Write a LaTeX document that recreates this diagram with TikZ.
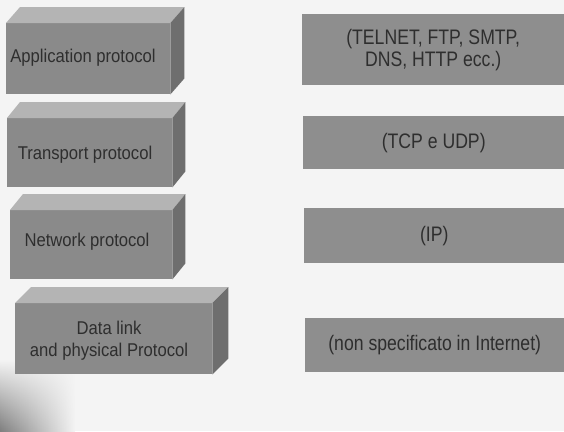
\documentclass[tikz,border=0pt]{standalone}
\usepackage{fontspec}
\setmainfont{Liberation Sans}
\newfontfamily\leftfont[FakeStretch=0.9]{Liberation Sans}
\newfontfamily\rightfont[FakeStretch=0.84]{Liberation Sans}
\usetikzlibrary{fadings}
\definecolor{bgc}{HTML}{F4F4F4}
\definecolor{frontc}{HTML}{8A8A8A}
\definecolor{topc}{HTML}{B4B4B4}
\definecolor{sidec}{HTML}{6E6E6E}
\definecolor{rboxc}{HTML}{8E8E8E}
\definecolor{txtc}{HTML}{2E2E2E}
\begin{document}
\begin{tikzpicture}[x=1pt,y=-1pt,
  front/.style={fill=frontc, inner sep=0pt, anchor=north west},
  lbl/.style={text=txtc, align=center, font=\leftfont\fontsize{18.5}{22}\selectfont},
  rbox/.style={fill=rboxc, inner sep=0pt, anchor=north west, text=txtc, align=center, font=\rightfont\fontsize{21}{22}\selectfont},
  topface/.style={fill=topc},
  sideface/.style={fill=sidec}]
\useasboundingbox (0,0) rectangle (564,431);
\fill[bgc] (0,0) rectangle (564,431);
\shade[left color=black!50, right color=bgc, path fading=north] (0,360) rectangle (75,431);
% left 3D boxes
\newcommand{\boxthreed}[7]{%
  \node[front, minimum width=#3pt, minimum height=#4pt] (#7) at (#1,#2) {};
  \fill[topface] (#7.north west) -- ++(#5,-#6) -- ([shift={(#5,-#6)}]#7.north east) -- (#7.north east) -- cycle;
  \fill[sideface] (#7.north east) -- ++(#5,-#6) -- ([shift={(#5,-#6)}]#7.south east) -- (#7.south east) -- cycle;
}
\boxthreed{6}{23}{164}{71}{14}{16}{a1}
\boxthreed{7}{118}{165}{69}{13}{16}{a2}
\boxthreed{10}{210}{162}{69}{13}{16}{a3}
\boxthreed{15}{303}{197}{71}{16}{16}{a4}
\node[lbl] (t1) at (83,58) {Application protocol};
\node[lbl] (t2) at (85,155) {Transport protocol};
\node[lbl] (t3) at (87,242) {Network protocol};
\node[lbl] (t4) at (109,341) {Data link\\and physical Protocol};
% right boxes
\node[rbox, minimum width=262pt, minimum height=71pt] (r1) at (302,14) {(TELNET, FTP, SMTP,\\DNS, HTTP ecc.)};
\node[rbox, minimum width=261pt, minimum height=53pt] (r2) at (303,116) {(TCP e UDP)};
\node[rbox, minimum width=260pt, minimum height=55pt] (r3) at (304,208) {(IP)};
\node[rbox, minimum width=259pt, minimum height=54pt] (r4) at (305,318) {(non specificato in Internet)};
\end{tikzpicture}
\end{document}
